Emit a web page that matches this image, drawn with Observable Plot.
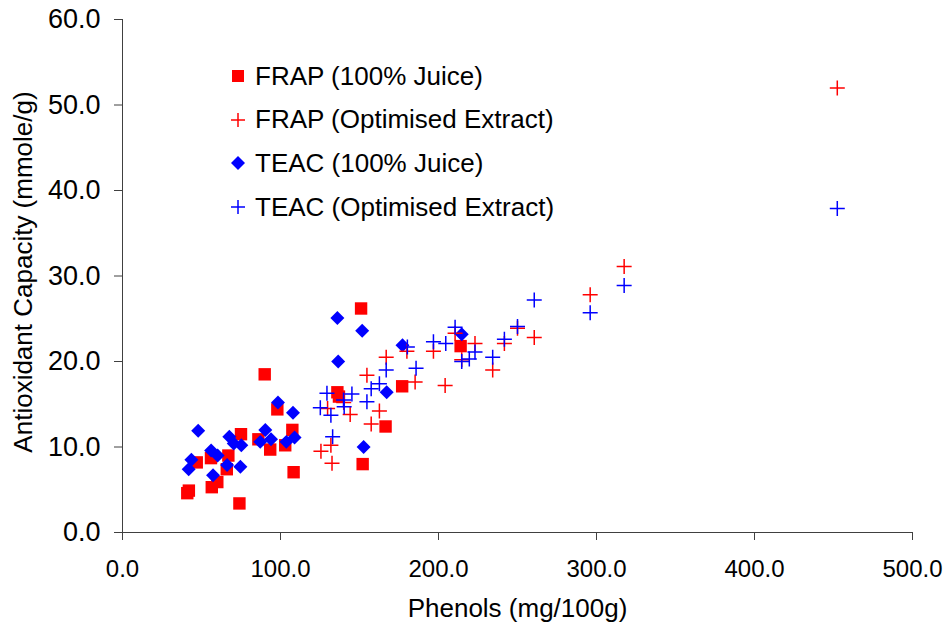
<!DOCTYPE html>
<html>
<head>
<meta charset="utf-8">
<script src="https://cdn.jsdelivr.net/npm/d3@7"></script>
<script src="https://cdn.jsdelivr.net/npm/@observablehq/plot@0.6"></script>
<style>
  html, body { margin: 0; padding: 0; background: #fff; }
  #wrap { position: relative; width: 948px; height: 631px; font-family: "Liberation Sans", Arial, sans-serif; }
  .leg { position: absolute; left: 228px; top: 56px; font-size: 26px; color: #000; }
  .row { position: absolute; left: 0; height: 40px; display: flex; align-items: center; white-space: nowrap; }
  .row svg { width: 20px; height: 20px; margin-right: 7px; }
</style>
</head>
<body>
<div id="wrap"></div>
<script>
// ---- data ----
const frapJuicePhenols = [41, 42, 47, 56, 56.5, 60, 66, 67, 74, 75, 86, 90, 93.5, 98, 103, 107.5, 108.3, 136, 137, 151, 152, 166.5, 177, 214];
const frapJuiceValues  = [4.6, 4.9, 8.2, 8.7, 5.3, 5.9, 7.4, 9.0, 3.4, 11.5, 10.9, 18.5, 9.7, 14.4, 10.2, 12.0, 7.05, 16.4, 15.9, 26.2, 8.0, 12.4, 17.1, 21.8];

const frapExtractPhenols = [125.6, 129.8, 131.9, 132.6, 140, 144.1, 154.7, 157.4, 162.6, 166.9, 180, 185.2, 196.8, 204.2, 210.5, 214.7, 223.1, 234.3, 241.7, 250, 260.6, 296, 317.5, 452.4];
const frapExtractValues  = [9.5, 14.5, 10.2, 8.1, 15.2, 13.8, 18.4, 12.7, 14.2, 20.5, 21.2, 17.6, 21.2, 17.2, 23.3, 20.2, 22.1, 19.0, 22.1, 23.9, 22.8, 27.8, 31.1, 52.0];

const teacJuicePhenols = [41.9, 43.6, 47.9, 56.1, 57.3, 60.2, 66.2, 67.6, 70.4, 74.6, 75.2, 87.2, 90.4, 94, 98.4, 103.7, 107.9, 108.9, 136, 136.5, 151.7, 152.6, 167.2, 177.2, 214.7];
const teacJuiceValues  = [7.4, 8.5, 11.9, 9.6, 6.7, 9.0, 7.9, 11.2, 10.4, 7.7, 10.2, 10.6, 12.0, 10.9, 15.2, 10.6, 14.0, 11.1, 25.1, 20.0, 23.6, 10.0, 16.4, 21.9, 23.2];

const teacExtractPhenols = [125.2, 129.4, 131.9, 133, 139.9, 140.3, 145.2, 154.7, 157.4, 162.6, 166.9, 180.3, 185.8, 196.8, 204.6, 210.5, 214.7, 219.5, 223.1, 234.3, 241.7, 250, 260.6, 296, 317.5, 452.4];
const teacExtractValues  = [14.6, 16.3, 13.7, 11.2, 15.5, 14.7, 16.2, 15.3, 16.8, 17.4, 19.0, 21.7, 19.2, 22.3, 22.1, 24.0, 20.0, 20.3, 21.1, 20.5, 22.6, 24.1, 27.2, 25.7, 28.9, 37.9];

const xTicks = [0, 100, 200, 300, 400, 500];
const yTicks = [0, 10, 20, 30, 40, 50, 60];
const seriesNames = ["FRAP (100% Juice)", "FRAP (Optimised Extract)", "TEAC (100% Juice)", "TEAC (Optimised Extract)"];
const xTitle = "Phenols (mg/100g)";
const yTitle = "Antioxidant Capacity (mmole/g)";

const RED = "#ff0000", BLUE = "#0000ff";
const zip = (xs, ys) => xs.map((x, i) => ({x, y: ys[i]}));
const frapJuice = zip(frapJuicePhenols, frapJuiceValues);
const frapExtract = zip(frapExtractPhenols, frapExtractValues);
const teacJuice = zip(teacJuicePhenols, teacJuiceValues);
const teacExtract = zip(teacExtractPhenols, teacExtractValues);
const fmt = d => d.toFixed(1);

const chart = Plot.plot({
  width: 948, height: 631,
  marginLeft: 122, marginRight: 36, marginTop: 19, marginBottom: 99,
  style: {fontFamily: "'Liberation Sans', Arial, sans-serif", fontSize: "24px", color: "#000", background: "#fff", overflow: "visible"},
  x: {domain: [0, 500]},
  y: {domain: [0, 60]},
  marks: [
    Plot.axisX({ticks: xTicks, tickFormat: fmt, tickSize: 8, tickPadding: 19, label: null, stroke: "#404040", fill: "#000", fontSize: 24}),
    Plot.axisY({ticks: yTicks, tickFormat: fmt, tickSize: 8, tickPadding: 14, label: null, stroke: "#404040", fill: "#000", fontSize: 27}),
    Plot.ruleX([0], {stroke: "#404040"}),
    Plot.ruleY([0], {stroke: "#404040"}),
    Plot.dot(frapJuice, {x: "x", y: "y", symbol: "square", r: 7, fill: RED, stroke: "none"}),
    Plot.dot(teacJuice, {x: "x", y: "y", symbol: "diamond2", r: 6.3, fill: BLUE, stroke: "none"}),
    Plot.dot(frapExtract, {x: "x", y: "y", symbol: "plus", r: 4.9, fill: "none", stroke: RED, strokeWidth: 1.5}),
    Plot.dot(teacExtract, {x: "x", y: "y", symbol: "plus", r: 4.9, fill: "none", stroke: BLUE, strokeWidth: 1.5}),
    Plot.text([xTitle], {frameAnchor: "bottom", dy: 76, lineAnchor: "middle", textAnchor: "middle", fontSize: 26, fill: "#000"}),
    Plot.text([yTitle], {frameAnchor: "left", dx: -99, dy: -4, rotate: -90, lineAnchor: "middle", textAnchor: "middle", fontSize: 26, fill: "#000"})
  ]
});

const wrap = document.getElementById("wrap");
wrap.appendChild(chart);

// legend
const leg = document.createElement("div");
leg.className = "leg";
const sym = [
  `<rect x="4" y="4" width="12" height="12" fill="${RED}"/>`,
  `<path d="M3 10H17M10 3V17" stroke="${RED}" stroke-width="1.5" fill="none"/>`,
  `<path d="M10 3L17 10L10 17L3 10Z" fill="${BLUE}"/>`,
  `<path d="M3 10H17M10 3V17" stroke="${BLUE}" stroke-width="1.5" fill="none"/>`
];
seriesNames.forEach((name, i) => {
  const row = document.createElement("div");
  row.className = "row";
  row.style.top = (i * 43.7) + "px";
  row.innerHTML = `<svg viewBox="0 0 20 20">${sym[i]}</svg><span>${name}</span>`;
  leg.appendChild(row);
});
wrap.appendChild(leg);
</script>
</body>
</html>
